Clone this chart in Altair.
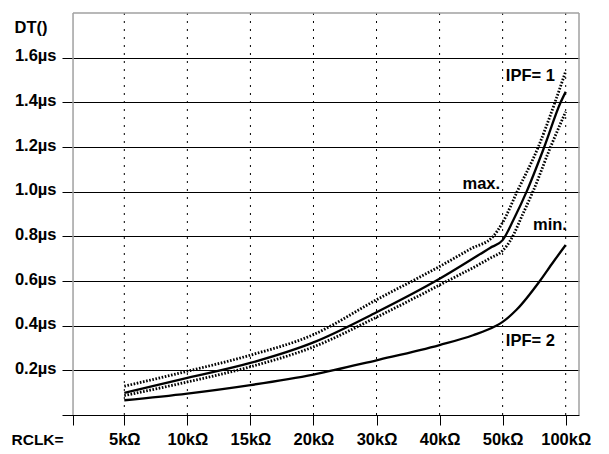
import altair as alt
import pandas as pd
import json

# ---- data ----
categories = ["5kΩ", "10kΩ", "15kΩ", "20kΩ", "30kΩ", "40kΩ", "50kΩ", "100kΩ"]
cat_pos = [0, 1, 2, 3, 4, 5, 6, 7]

typ1_x = [0, 1, 2, 3, 4, 5, 5.8, 6, 6.17, 6.38, 6.66, 6.92, 7]
typ1_y = [0.099, 0.166, 0.233, 0.325, 0.46, 0.61, 0.748, 0.783, 0.873, 1.0, 1.2, 1.4, 1.447]

max1_x = [0, 1, 2, 3, 4, 5, 5.5, 5.85, 6, 6.23, 6.565, 6.83, 7]
max1_y = [0.129, 0.196, 0.268, 0.36, 0.516, 0.665, 0.745, 0.80, 0.862, 1.0, 1.2, 1.4, 1.539]

min1_x = [0, 1, 2, 3, 4, 5, 5.8, 6, 6.12, 6.33, 6.48, 6.76, 7]
min1_y = [0.087, 0.148, 0.216, 0.305, 0.438, 0.582, 0.702, 0.736, 0.78, 0.906, 1.0, 1.2, 1.358]

typ2_x = [0, 1, 2, 3, 4, 5, 5.53, 5.88, 6, 6.22, 6.59, 6.8, 7]
typ2_y = [0.066, 0.096, 0.134, 0.181, 0.245, 0.313, 0.357, 0.397, 0.417, 0.471, 0.6, 0.684, 0.761]

y_tick_values = [0.0, 0.2, 0.4, 0.6, 0.8, 1.0, 1.2, 1.4, 1.6]
y_tick_labels = ["", "0.2µs", "0.4µs", "0.6µs", "0.8µs", "1.0µs", "1.2µs", "1.4µs", "1.6µs"]

ann_left_text = ["IPF= 1", "IPF= 2"]
ann_left_x = [6.05, 6.05]
ann_left_y = [1.497, 0.307]
ann_right_text = ["max.", "min."]
ann_right_x = [5.96, 7.02]
ann_right_y = [1.014, 0.828]

X_MIN, X_MAX = -0.988, 7.211
FRAME_LEFT = -0.813
Y_MAX = 1.8

FONT = "Liberation Sans"

# ---- tables ----
df_lines = pd.concat([
    pd.DataFrame({"x": typ1_x, "y": typ1_y, "s": "typ1", "k": "solid"}),
    pd.DataFrame({"x": typ2_x, "y": typ2_y, "s": "typ2", "k": "solid"}),
    pd.DataFrame({"x": max1_x, "y": max1_y, "s": "max1", "k": "dot"}),
    pd.DataFrame({"x": min1_x, "y": min1_y, "s": "min1", "k": "dot"}),
], ignore_index=True)
df_cats = pd.DataFrame({"x": cat_pos, "name": categories})
df_frame_v = pd.DataFrame({"x": [FRAME_LEFT, X_MAX]})
df_frame_top = pd.DataFrame({"x": [FRAME_LEFT], "x2": [X_MAX], "y": [Y_MAX]})
df_ann_l = pd.DataFrame({"x": ann_left_x, "y": ann_left_y, "t": ann_left_text})
df_ann_r = pd.DataFrame({"x": ann_right_x, "y": ann_right_y, "t": ann_right_text})

x_label_expr = "datum.value < 0 ? '' : " + json.dumps(categories, ensure_ascii=False) + "[round(datum.value)]"
y_label_expr = json.dumps(y_tick_labels, ensure_ascii=False) + "[round(datum.value*5)]"

x_scale = alt.Scale(domain=[X_MIN, X_MAX], nice=False, zero=False)
y_scale = alt.Scale(domain=[0, Y_MAX], nice=False, zero=False)

x_axis = alt.Axis(
    values=[FRAME_LEFT] + cat_pos, labelExpr=x_label_expr, grid=False, domain=False,
    ticks=True, tickSize=10, tickColor="black", tickWidth=1,
    labelFont=FONT, labelFontWeight="bold", labelFontSize=16.5, labelColor="black",
    labelBaseline="alphabetic", labelPadding=19.5, labelAlign="center",
    labelFlush=False, labelOverlap=False,
    title="RCLK=", titleX=-51, titleY=29.5, titleAlign="left", titleBaseline="alphabetic",
    titleFont=FONT, titleFontWeight="bold", titleFontSize=15.5, titleColor="black",
)
y_axis = alt.Axis(
    values=y_tick_values, labelExpr=y_label_expr, grid=True, gridColor="black",
    gridWidth=1, gridOpacity=1, domain=False, ticks=False, tickSize=0,
    labelFont=FONT, labelFontWeight="bold", labelFontSize=16.5, labelColor="black",
    labelBaseline="alphabetic", labelPadding=6, labelOffset=3, labelOverlap=False,
    title="DT()", titleAngle=0, titleX=-48, titleY=19, titleAlign="left",
    titleBaseline="alphabetic", titleFont=FONT, titleFontWeight="bold",
    titleFontSize=16.5, titleColor="black",
)

X = alt.X("x:Q", scale=x_scale, axis=x_axis)
Y = alt.Y("y:Q", scale=y_scale, axis=y_axis)

vgrid = alt.Chart(df_cats).mark_rule(color="black", strokeWidth=1, strokeDash=[2, 6]).encode(x=X)
frame_v = alt.Chart(df_frame_v).mark_rule(color="#a0a0a0", strokeWidth=1.5).encode(x=X)
frame_top = alt.Chart(df_frame_top).mark_rule(color="#a0a0a0", strokeWidth=1.5).encode(
    x=X, x2="x2:Q", y=Y)

solid = alt.Chart(df_lines).transform_filter("datum.k == 'solid'").mark_line(
    color="black", strokeWidth=2.3, interpolate="monotone").encode(
    x=X, y=Y, detail="s:N", order="x:Q")
dotted = alt.Chart(df_lines).transform_filter("datum.k == 'dot'").mark_line(
    color="black", strokeWidth=2.8, strokeDash=[1.6, 1.6], interpolate="monotone").encode(
    x=X, y=Y, detail="s:N", order="x:Q")

ann_l = alt.Chart(df_ann_l).mark_text(
    align="left", baseline="alphabetic", font=FONT, fontWeight="bold", fontSize=16.5,
    color="black").encode(x=X, y=Y, text="t:N")
ann_r = alt.Chart(df_ann_r).mark_text(
    align="right", baseline="alphabetic", font=FONT, fontWeight="bold", fontSize=16.5,
    color="black").encode(x=X, y=Y, text="t:N")

chart = alt.layer(vgrid, frame_v, frame_top, solid, dotted, ann_l, ann_r).properties(
    width=517, height=402,
    padding={"left": 54, "top": 5, "right": 22, "bottom": 37},
    autosize=alt.AutoSizeParams(type="none"),
    background="white",
).configure_view(stroke=None)

chart.save("out.html", embed_options={"renderer": "svg", "actions": False})
